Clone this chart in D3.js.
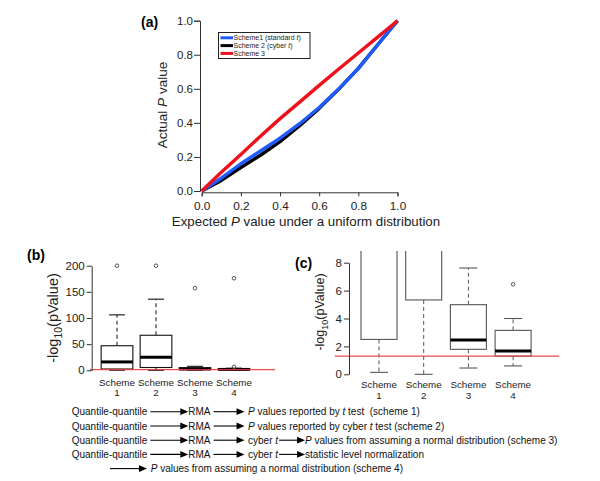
<!DOCTYPE html>
<html><head><meta charset="utf-8">
<script src="https://cdn.jsdelivr.net/npm/d3@7"></script>
<style>
body{margin:0;background:#fff;}
svg{display:block;font-family:"Liberation Sans",Arial,Helvetica,sans-serif;}
</style></head>
<body>
<svg id="chart" width="600" height="481"></svg>
<script>
// ---------- DATA ----------
const expectedP = [0,0.1,0.2,0.3,0.4,0.5,0.6,0.7,0.8,0.9,1.0];
const scheme1Q = [0,0.075,0.16,0.235,0.31,0.395,0.49,0.6,0.72,0.86,1.0];
const scheme2Q = [0,0.062,0.138,0.21,0.29,0.383,0.485,0.598,0.72,0.86,1.0];
const scheme3Q = [0,0.11,0.215,0.322,0.425,0.522,0.62,0.716,0.81,0.905,1.0];
const qqSeriesNames = ["Scheme1 (standard ", "Scheme 2 (cyber ", "Scheme 3"];
const qqColors = ["#1f5cff", "#000000", "#f0101c"];
const qqTicks = [0,0.2,0.4,0.6,0.8,1.0];

const schemes = ["1","2","3","4"];
const boxLow = [0.14, 0, 0.45, 0.6];
const boxQ1 = [2.5, 5.33, 1.79, 1.3];
const boxMedian = [16, 25, 2.45, 1.67];
const boxQ3 = [47, 67, 4.99, 3.15];
const boxHigh = [106, 136, 7.62, 4.0];
const boxOutliers = [[200],[200],[157],[6.45,176]];
const sigLine = 1.301; // -log10(0.05)
const bTicks = [0,50,100,150,200];
const cTicks = [0,2,4,6,8];

const svg = d3.select("#chart");
const FONT = '"Liberation Sans",Arial,Helvetica,sans-serif';

// ---------- PANEL (a) ----------
const ax = d3.scaleLinear().domain([0,1]).range([201.7,397.5]);
const ay = d3.scaleLinear().domain([0,1]).range([191,20.7]);
const ga = svg.append("g");
ga.append("g").attr("transform","translate(200,0)")
  .call(d3.axisLeft(ay).tickValues(qqTicks).tickFormat(d3.format(".1f")).tickSize(6).tickPadding(1))
  .call(g=>{g.selectAll("path,line").attr("stroke","#333");g.selectAll("text").attr("font-size",11.5).attr("fill","#222").attr("font-family",FONT);});
ga.append("g").attr("transform","translate(0,192.3)")
  .call(d3.axisBottom(ax).tickValues(qqTicks).tickFormat(d3.format(".1f")).tickSize(4).tickSizeOuter(4).tickPadding(5))
  .call(g=>{g.selectAll("path,line").attr("stroke","#333");g.selectAll("text").attr("font-size",11.8).attr("fill","#222").attr("font-family",FONT);});
const line = d3.line().x((d,i)=>ax(expectedP[i])).y(d=>ay(d));
[[scheme2Q,1],[scheme1Q,0],[scheme3Q,2]].forEach(([s,ci])=>{
  ga.append("path").datum(s).attr("d",line).attr("fill","none")
    .attr("stroke",qqColors[ci]).attr("stroke-width",3.4).attr("stroke-linejoin","round");
});
// legend
const lg = ga.append("g");
lg.append("rect").attr("x",218.5).attr("y",32.5).attr("width",91.5).attr("height",26)
  .attr("fill","#fff").attr("stroke","#222").attr("stroke-width",1);
qqSeriesNames.forEach((n,i)=>{
  const yy = 37.8 + i*7.8;
  lg.append("line").attr("x1",220.5).attr("x2",233).attr("y1",yy).attr("y2",yy)
    .attr("stroke",qqColors[i]).attr("stroke-width",3);
  const t = lg.append("text").attr("x",233.5).attr("y",yy+2.4).attr("font-size",7).attr("fill","#222");
  t.append("tspan").text(n);
  if(i<2){ t.append("tspan").attr("font-style","italic").text("t"); t.append("tspan").text(")"); }
});
// axis titles
const yt = ga.append("text").attr("transform","translate(167,105) rotate(-90)")
  .attr("text-anchor","middle").attr("font-size",13.5).attr("fill","#222");
yt.append("tspan").text("Actual ");
yt.append("tspan").attr("font-style","italic").text("P");
yt.append("tspan").text(" value");
const xt = ga.append("text").attr("x",306).attr("y",225.5)
  .attr("text-anchor","middle").attr("font-size",13.3).attr("fill","#222");
xt.append("tspan").text("Expected ");
xt.append("tspan").attr("font-style","italic").text("P");
xt.append("tspan").text(" value under a uniform distribution");
svg.append("text").attr("x",141).attr("y",27).attr("font-size",14).attr("font-weight","bold").text("(a)");

// ---------- BOX PLOT helper ----------
function boxPanel(opts){
  const g = svg.append("g");
  const x = d3.scaleLinear().domain([0,5]).range(opts.xr);
  const y = d3.scaleLinear().domain(opts.yd).range(opts.yr);
  const clipId = "clip"+opts.id;
  svg.append("clipPath").attr("id",clipId).append("rect")
    .attr("x",0).attr("y",opts.clipTop).attr("width",600).attr("height",481-opts.clipTop);
  const pg = g.append("g").attr("clip-path",`url(#${clipId})`);
  schemes.forEach((s,i)=>{
    const cx = x(i+1), hw = opts.bw/2, cw = opts.bw/4;
    const st = opts.boxStroke;
    // whiskers
    pg.append("line").attr("x1",cx).attr("x2",cx).attr("y1",y(boxQ3[i])).attr("y2",y(boxHigh[i]))
      .attr("stroke",st).attr("stroke-width",1).attr("stroke-dasharray","4,3");
    pg.append("line").attr("x1",cx).attr("x2",cx).attr("y1",y(boxQ1[i])).attr("y2",y(boxLow[i]))
      .attr("stroke",st).attr("stroke-width",1).attr("stroke-dasharray","4,3");
    [boxHigh[i],boxLow[i]].forEach(v=>{
      pg.append("line").attr("x1",cx-cw).attr("x2",cx+cw).attr("y1",y(v)).attr("y2",y(v))
        .attr("stroke",st).attr("stroke-width",1.1);
    });
    pg.append("rect").attr("x",cx-hw).attr("y",y(boxQ3[i])).attr("width",opts.bw)
      .attr("height",y(boxQ1[i])-y(boxQ3[i])).attr("fill","#fff").attr("stroke",st).attr("stroke-width",1.1);
    pg.append("line").attr("x1",cx-hw).attr("x2",cx+hw).attr("y1",y(boxMedian[i])).attr("y2",y(boxMedian[i]))
      .attr("stroke","#000").attr("stroke-width",3);
    boxOutliers[i].forEach(v=>{
      pg.append("circle").attr("cx",cx).attr("cy",y(v)).attr("r",1.8)
        .attr("fill","none").attr("stroke","#444").attr("stroke-width",0.9);
    });
    const lt = g.append("text").attr("x",cx).attr("text-anchor","middle").attr("font-size",9.8).attr("fill","#222");
    lt.append("tspan").attr("x",cx).attr("y",opts.labY).text("Scheme");
    lt.append("tspan").attr("x",cx).attr("y",opts.labY+10.5).text(s);
  });
  // red significance line over boxes
  g.append("line").attr("x1",x(opts.redFrom)).attr("x2",x(opts.redTo))
    .attr("y1",y(sigLine)).attr("y2",y(sigLine)).attr("stroke","#f03a3a").attr("stroke-width",1.3).attr("opacity",0.9);
  g.append("g").attr("transform",`translate(${opts.axisX},0)`)
    .call(d3.axisLeft(y).tickValues(opts.ticks).tickSize(5).tickSizeOuter(0).tickPadding(2))
    .call(a=>{a.selectAll("path,line").attr("stroke","#333");a.selectAll("text").attr("font-size",11.5).attr("fill","#222").attr("font-family",FONT);});
  const yl = g.append("text").attr("transform",`translate(${opts.ylX},${opts.ylY}) rotate(-90)`)
    .attr("text-anchor","middle").attr("font-size",opts.ylSize).attr("fill","#222");
  yl.append("tspan").text("-log");
  yl.append("tspan").attr("font-size",opts.ylSize*0.72).attr("dy",opts.ylSize*0.3).text("10");
  yl.append("tspan").attr("dy",-opts.ylSize*0.3).text("(pValue)");
  svg.append("text").attr("x",opts.tagX).attr("y",opts.tagY).attr("font-size",14).attr("font-weight","bold").text(opts.tag);
}

boxPanel({id:"b", xr:[78,273], yd:[0,200], yr:[370.3,265.7], clipTop:0, bw:31.7,
  boxStroke:"#111", redFrom:0.3, redTo:5.05, labY:385.7, axisX:91.7, ticks:bTicks,
  ylX:58, ylY:318, ylSize:14.5, tag:"(b)", tagX:27, tagY:260});
boxPanel({id:"c", xr:[334.3,557.8], yd:[0,8], yr:[374.3,262.7], clipTop:251, bw:36,
  boxStroke:"#555", redFrom:0.01, redTo:5.03, labY:388.3, axisX:349, ticks:cTicks,
  ylX:324, ylY:312, ylSize:12.5, tag:"(c)", tagX:295, tagY:268});

// ---------- FLOW TEXT ----------
const flowRows = [
  [["Quantile-quantile"],"A1",["RMA"],"A2",[["P",1]," values reported by ",["t",1]," test\u00a0 (scheme 1)"]],
  [["Quantile-quantile"],"A1",["RMA"],"A2",[["P",1]," values reported by cyber ",["t",1]," test (scheme 2)"]],
  [["Quantile-quantile"],"A1",["RMA"],"A2",["cyber ",["t",1]],"A3",[["P",1]," values from assuming a normal distribution (scheme 3)"]],
  [["Quantile-quantile"],"A1",["RMA"],"A2",["cyber ",["t",1]],"A3",["statistic level normalization"]],
  ["I","A4",[["P",1]," values from assuming a normal distribution (scheme 4)"]]
];
const arrowSpec = {A1:{pre:3,len:38,post:0}, A2:{pre:3,len:31,post:3.5}, A3:{pre:1,len:26,post:0}, A4:{pre:0,len:37,post:3.7}};
const rowY = [415.3,429.6,443.8,458,472.2];
const fg = svg.append("g");
flowRows.forEach((row,ri)=>{
  let cx = 71.7;
  const yy = rowY[ri];
  row.forEach(item=>{
    if(item==="I"){ cx = 110; return; }
    if(typeof item==="string"){
      const a = arrowSpec[item];
      const x0 = cx + a.pre, x1 = x0 + a.len;
      fg.append("line").attr("x1",x0).attr("x2",x1-6).attr("y1",yy-3.6).attr("y2",yy-3.6)
        .attr("stroke","#000").attr("stroke-width",1.1);
      fg.append("path").attr("d",`M${x1},${yy-3.6} L${x1-8},${yy-7} L${x1-8},${yy-0.2} Z`).attr("fill","#000");
      cx = x1 + a.post;
      return;
    }
    const t = fg.append("text").attr("x",cx).attr("y",yy).attr("font-size",10).attr("fill","#111");
    item.forEach(p=>{
      if(Array.isArray(p)) t.append("tspan").attr("font-style","italic").text(p[0]);
      else t.append("tspan").text(p);
    });
    cx += t.node().getComputedTextLength();
  });
});
</script>
</body></html>
